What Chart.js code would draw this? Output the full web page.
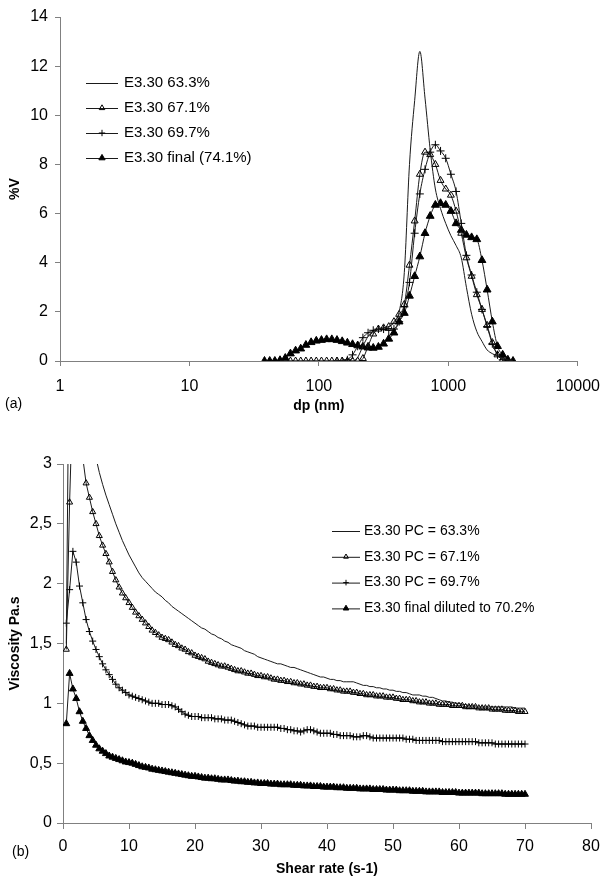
<!DOCTYPE html>
<html>
<head>
<meta charset="utf-8">
<script src="https://cdn.jsdelivr.net/npm/chart.js@4.4.1/dist/chart.umd.min.js"></script>
<style>
  html, body { margin: 0; padding: 0; background: #fff; }
  #wrap { position: relative; width: 611px; height: 881px; overflow: hidden; }
  canvas { position: absolute; left: 0; }
  #psd { top: 0; }
  #visc { top: 440px; }
</style>
</head>
<body>
<div id="wrap">
  <canvas id="psd" width="611" height="440" style="width:611px;height:440px"></canvas>
  <canvas id="visc" width="611" height="441" style="width:611px;height:441px"></canvas>
</div>
<script>
// ---- (a) particle size distribution ----
const sizeNm = [38.0, 41.7, 45.7, 50.1, 55.0, 60.3, 66.1, 72.4, 79.4, 87.1,
  95.5, 104.7, 114.8, 125.9, 138.0, 151.4, 166.0, 182.0, 199.5, 218.8,
  239.9, 263.0, 288.4, 316.2, 346.7, 380.2, 416.9, 457.1, 501.2, 549.5,
  602.6, 660.7, 724.4, 794.3, 871.0, 955.0, 1047, 1148, 1259, 1380,
  1514, 1660, 1820, 1995, 2188, 2399, 2630, 2884, 3162];

const dv633 = [null, null, null, 0, 0, 0, 0, 0, 0, 0,
  0, 0, 0, 0, 0, 0, 0, 0, 0.15, 0.6,
  1.0, 1.2, 1.3, 1.35, 1.4, 1.55, 2.0, 3.6, 8.0, 10.6,
  12.6, 10.7, 8.6, 7.0, 6.2, 5.6, 5.1, 4.7, 4.2, 3.0,
  1.9, 1.2, 0.8, 0.45, 0.3, 0.2, 0.12, 0.05, 0];

const dv671 = [null, null, null, 0, 0, 0, 0, 0, 0, 0,
  0, 0, 0, 0, 0, 0, 0, 0, 0, 0.1,
  0.6, 1.1, 1.3, 1.35, 1.4, 1.6, 1.9, 2.3, 3.9, 5.7,
  7.6, 8.5, 8.4, 8.0, 7.35, 7.0, 6.75, 6.1, 5.2, 4.2,
  3.45, 2.7, 2.1, 1.45, 0.75, 0.25, 0.05, 0, null];

const dv697 = [null, null, null, null, null, null, null, null, null, null,
  null, null, null, null, 0, 0, 0.05, 0.25, 0.6, 0.95,
  1.15, 1.25, 1.3, 1.3, 1.25, 1.3, 1.6, 2.2, 3.2, 5.2,
  6.8, 7.8, 8.5, 8.8, 8.55, 8.25, 7.6, 6.9, 5.6, 4.3,
  3.5, 2.8, 2.1, 1.4, 0.7, 0.25, 0.05, 0, null];

const dvFinal = [0, 0, 0, 0.03, 0.12, 0.3, 0.42, 0.5, 0.65, 0.76,
  0.82, 0.85, 0.88, 0.88, 0.85, 0.8, 0.74, 0.68, 0.63, 0.58,
  0.54, 0.53, 0.57, 0.7, 0.9, 1.15, 1.6, 1.95, 2.65, 3.45,
  4.25, 5.2, 5.9, 6.35, 6.42, 6.35, 6.1, 5.6, 5.33, 5.13,
  5.03, 4.95, 4.1, 2.9, 1.6, 0.6, 0.25, 0.05, 0];

const sizeTicks = [1, 10, 100, 1000, 10000];

// ---- (b) viscosity curves ----
const shearRate = [0.5, 1, 1.5, 2, 2.5, 3, 3.5, 4, 4.5, 5,
  5.5, 6, 6.5, 7, 7.5, 8, 8.5, 9, 9.5, 10,
  10.5, 11, 11.5, 12, 12.5, 13, 13.5, 14, 14.5, 15,
  15.5, 16, 16.5, 17, 17.5, 18, 18.5, 19, 19.5, 20,
  20.5, 21, 21.5, 22, 22.5, 23, 23.5, 24, 24.5, 25,
  25.5, 26, 26.5, 27, 27.5, 28, 28.5, 29, 29.5, 30,
  30.5, 31, 31.5, 32, 32.5, 33, 33.5, 34, 34.5, 35,
  35.5, 36, 36.5, 37, 37.5, 38, 38.5, 39, 39.5, 40,
  40.5, 41, 41.5, 42, 42.5, 43, 43.5, 44, 44.5, 45,
  45.5, 46, 46.5, 47, 47.5, 48, 48.5, 49, 49.5, 50,
  50.5, 51, 51.5, 52, 52.5, 53, 53.5, 54, 54.5, 55,
  55.5, 56, 56.5, 57, 57.5, 58, 58.5, 59, 59.5, 60,
  60.5, 61, 61.5, 62, 62.5, 63, 63.5, 64, 64.5, 65,
  65.5, 66, 66.5, 67, 67.5, 68, 68.5, 69, 69.5, 70];

const visc633 = [1.5, 4.5, 4.4, 4.2, 4.0, 3.8, 3.6, 3.4, 3.2, 3.05,
  2.93, 2.83, 2.74, 2.66, 2.58, 2.5, 2.43, 2.36, 2.3, 2.24,
  2.19, 2.14, 2.09, 2.05, 2.02, 1.99, 1.96, 1.93, 1.91, 1.89,
  1.86, 1.84, 1.81, 1.79, 1.77, 1.75, 1.73, 1.71, 1.69, 1.67,
  1.65, 1.63, 1.62, 1.6, 1.58, 1.57, 1.55, 1.54, 1.52, 1.51,
  1.49, 1.48, 1.47, 1.46, 1.44, 1.43, 1.42, 1.41, 1.39, 1.38,
  1.37, 1.36, 1.35, 1.34, 1.33, 1.33, 1.32, 1.31, 1.3, 1.3,
  1.29, 1.28, 1.27, 1.26, 1.25, 1.24, 1.23, 1.22, 1.22, 1.21,
  1.2, 1.2, 1.19, 1.19, 1.18, 1.18, 1.18, 1.18, 1.17, 1.16,
  1.15, 1.15, 1.14, 1.14, 1.13, 1.13, 1.12, 1.12, 1.11, 1.11,
  1.1, 1.1, 1.09, 1.09, 1.08, 1.07, 1.07, 1.07, 1.06, 1.06,
  1.05, 1.05, 1.04, 1.03, 1.02, 1.02, 1.01, 1.01, 1.0, 1.0,
  0.99, 0.99, 0.98, 0.98, 0.98, 0.97, 0.97, 0.97, 0.97, 0.97,
  0.97, 0.97, 0.97, 0.97, 0.97, 0.97, 0.96, 0.96, 0.96, 0.96];

const visc671 = [1.45, 2.68, 3.6, 3.4, 3.2, 3.05, 2.84, 2.72, 2.6, 2.5,
  2.4, 2.32, 2.25, 2.18, 2.1, 2.03, 1.97, 1.92, 1.88, 1.84,
  1.8, 1.76, 1.73, 1.7, 1.67, 1.64, 1.61, 1.59, 1.57, 1.55,
  1.54, 1.53, 1.51, 1.49, 1.48, 1.46, 1.45, 1.43, 1.42, 1.4,
  1.39, 1.38, 1.37, 1.35, 1.34, 1.33, 1.32, 1.31, 1.31, 1.3,
  1.29, 1.28, 1.27, 1.27, 1.26, 1.25, 1.25, 1.24, 1.23, 1.23,
  1.22, 1.22, 1.21, 1.2, 1.2, 1.19, 1.19, 1.18, 1.18, 1.17,
  1.17, 1.16, 1.16, 1.15, 1.15, 1.14, 1.14, 1.13, 1.13, 1.13,
  1.12, 1.12, 1.11, 1.11, 1.1, 1.1, 1.1, 1.09, 1.09, 1.08,
  1.08, 1.07, 1.07, 1.07, 1.06, 1.06, 1.06, 1.05, 1.05, 1.05,
  1.04, 1.04, 1.03, 1.03, 1.03, 1.02, 1.02, 1.01, 1.01, 1.01,
  1.0, 1.0, 1.0, 0.99, 0.99, 0.99, 0.99, 0.98, 0.98, 0.98,
  0.98, 0.97, 0.97, 0.97, 0.97, 0.96, 0.96, 0.96, 0.96, 0.95,
  0.95, 0.95, 0.95, 0.94, 0.94, 0.94, 0.94, 0.93, 0.93, 0.93];

const visc697 = [1.67, 1.95, 2.27, 2.18, 1.98, 1.84, 1.7, 1.6, 1.52, 1.45,
  1.39, 1.33, 1.28, 1.24, 1.2, 1.16, 1.13, 1.11, 1.09, 1.07,
  1.06, 1.05, 1.04, 1.03, 1.02, 1.01, 1.0, 1.0, 1.0, 0.99,
  0.99, 0.99, 0.98, 0.97, 0.95, 0.93, 0.91, 0.9, 0.89, 0.89,
  0.89, 0.88, 0.88, 0.88, 0.88, 0.87, 0.87, 0.87, 0.86, 0.86,
  0.86, 0.85, 0.84, 0.83, 0.82, 0.81, 0.81, 0.81, 0.8, 0.8,
  0.8, 0.8, 0.8, 0.8, 0.8, 0.79, 0.79, 0.78, 0.78, 0.77,
  0.77, 0.76, 0.77, 0.78, 0.78, 0.77, 0.76, 0.75, 0.75, 0.75,
  0.75, 0.74, 0.74, 0.73, 0.73, 0.73, 0.73, 0.72, 0.72, 0.72,
  0.73, 0.73, 0.72, 0.71, 0.71, 0.71, 0.71, 0.71, 0.71, 0.71,
  0.71, 0.71, 0.71, 0.7, 0.7, 0.7, 0.69, 0.69, 0.69, 0.69,
  0.69, 0.69, 0.69, 0.69, 0.68, 0.68, 0.68, 0.68, 0.68, 0.68,
  0.68, 0.68, 0.68, 0.68, 0.68, 0.67, 0.67, 0.67, 0.67, 0.67,
  0.66, 0.66, 0.66, 0.66, 0.66, 0.66, 0.66, 0.66, 0.66, 0.66];

const viscFinal = [0.83, 1.25, 1.12, 1.04, 0.93, 0.85, 0.79, 0.73, 0.69, 0.65,
  0.62, 0.6, 0.58, 0.56, 0.55, 0.54, 0.53, 0.52, 0.51, 0.505,
  0.5, 0.49, 0.48, 0.47, 0.465, 0.46, 0.45, 0.445, 0.44, 0.435,
  0.43, 0.425, 0.42, 0.415, 0.41, 0.405, 0.4, 0.395, 0.39, 0.39,
  0.385, 0.38, 0.375, 0.375, 0.37, 0.37, 0.365, 0.36, 0.36, 0.36,
  0.355, 0.35, 0.35, 0.345, 0.345, 0.34, 0.34, 0.335, 0.335, 0.33,
  0.33, 0.33, 0.325, 0.325, 0.325, 0.32, 0.32, 0.32, 0.32, 0.315,
  0.315, 0.315, 0.31, 0.31, 0.31, 0.305, 0.305, 0.305, 0.3, 0.3,
  0.3, 0.3, 0.295, 0.295, 0.295, 0.29, 0.29, 0.29, 0.29, 0.285,
  0.285, 0.285, 0.285, 0.28, 0.28, 0.28, 0.28, 0.275, 0.275, 0.275,
  0.275, 0.27, 0.27, 0.27, 0.27, 0.265, 0.265, 0.265, 0.265, 0.26,
  0.26, 0.26, 0.26, 0.26, 0.255, 0.255, 0.255, 0.255, 0.255, 0.25,
  0.25, 0.25, 0.25, 0.25, 0.25, 0.25, 0.245, 0.245, 0.245, 0.245,
  0.245, 0.245, 0.245, 0.24, 0.24, 0.24, 0.24, 0.24, 0.24, 0.24];

const FONT = "'Liberation Sans', Arial, sans-serif";
const AXIS_GREY = '#808080';
const LINE = '#1a1a1a';

function toPoints(xs, ys) {
  const pts = [];
  xs.forEach((x, i) => { if (ys[i] !== null) pts.push({ x: x, y: ys[i] }); });
  return pts;
}

function series(label, xs, ys, style, radius, fill) {
  return {
    label: label,
    data: toPoints(xs, ys),
    borderColor: LINE,
    borderWidth: 1,
    pointStyle: style || 'circle',
    pointRadius: style ? radius : 0,
    pointBorderColor: '#000',
    pointBackgroundColor: fill || 'rgba(255,255,255,0)',
    pointBorderWidth: 1
  };
}

// legend drawn inside the plot + panel letter
const insideLegend = {
  id: 'insideLegend',
  afterDraw(chart, args, opts) {
    const ctx = chart.ctx;
    ctx.save();
    ctx.font = opts.font;
    ctx.textBaseline = 'middle';
    chart.data.datasets.forEach((ds, i) => {
      const y = opts.y + i * opts.gap;
      ctx.strokeStyle = LINE;
      ctx.lineWidth = 1;
      ctx.beginPath();
      ctx.moveTo(opts.x, y + 0.5);
      ctx.lineTo(opts.x + opts.len, y + 0.5);
      ctx.stroke();
      if (ds.pointRadius > 0) {
        ctx.fillStyle = ds.pointBackgroundColor;
        ctx.strokeStyle = ds.pointBorderColor;
        ctx.lineWidth = ds.pointBorderWidth;
        Chart.helpers.drawPoint(ctx, {
          pointStyle: ds.pointStyle, radius: ds.pointRadius * 0.8,
          borderWidth: ds.pointBorderWidth, rotation: 0
        }, opts.x + opts.len / 2, y);
      }
      ctx.fillStyle = '#000';
      ctx.fillText(ds.label, opts.x + opts.len + opts.textGap, y);
    });
    ctx.font = opts.tagFont;
    ctx.fillText(opts.tag, opts.tagX, opts.tagY);
    ctx.restore();
  }
};
Chart.register(insideLegend);

const tickFont = { family: FONT, size: 16 };
const titleFont = { family: FONT, size: 14, weight: 'bold' };

new Chart(document.getElementById('psd'), {
  type: 'line',
  data: {
    datasets: [
      series('E3.30 63.3%', sizeNm, dv633, null, 0),
      series('E3.30 67.1%', sizeNm, dv671, 'triangle', 4),
      series('E3.30 69.7%', sizeNm, dv697, 'cross', 4),
      series('E3.30 final (74.1%)', sizeNm, dvFinal, 'triangle', 4.5, '#000')
    ]
  },
  options: {
    responsive: false,
    animation: false,
    devicePixelRatio: 1,
    layout: { padding: { top: 17, right: 19, left: 0, bottom: 0 } },
    elements: { line: { cubicInterpolationMode: 'monotone' } },
    plugins: {
      legend: { display: false },
      tooltip: { enabled: false },
      insideLegend: {
        x: 86, y: 83, gap: 25, len: 32, textGap: 6,
        font: '15px ' + FONT,
        tag: '(a)', tagX: 5, tagY: 404, tagFont: '14px ' + FONT
      }
    },
    scales: {
      x: {
        type: 'logarithmic', min: 1, max: 10000,
        afterBuildTicks: (s) => { s.ticks = sizeTicks.map(v => ({ value: v })); },
        afterFit: (s) => { s.height = 79; },
        ticks: { callback: (v) => String(v), font: tickFont, color: '#000', padding: 11, maxRotation: 0, autoSkip: false },
        grid: { drawOnChartArea: false, tickLength: 5, color: AXIS_GREY },
        border: { color: AXIS_GREY },
        title: { display: true, text: 'dp (nm)', font: titleFont, color: '#000', padding: { top: 0, bottom: 25 } }
      },
      y: {
        min: 0, max: 14,
        afterFit: (s) => { s.width = 60; },
        ticks: { stepSize: 2, font: tickFont, color: '#000', padding: 7 },
        grid: { drawOnChartArea: false, tickLength: 5, color: AXIS_GREY },
        border: { color: AXIS_GREY },
        title: { display: true, text: '%V', font: titleFont, color: '#000', padding: { top: 7, bottom: 0 } }
      }
    }
  }
});

new Chart(document.getElementById('visc'), {
  type: 'line',
  data: {
    datasets: [
      series('E3.30 PC = 63.3%', shearRate, visc633, null, 0),
      series('E3.30 PC = 67.1%', shearRate, visc671, 'triangle', 3.5),
      series('E3.30 PC = 69.7%', shearRate, visc697, 'cross', 3.5),
      series('E3.30 final diluted to 70.2%', shearRate, viscFinal, 'triangle', 4, '#000')
    ]
  },
  options: {
    responsive: false,
    animation: false,
    devicePixelRatio: 1,
    layout: { padding: { top: 24, right: 20, left: 0, bottom: 0 } },
    plugins: {
      legend: { display: false },
      tooltip: { enabled: false },
      insideLegend: {
        x: 332, y: 91, gap: 25.8, len: 28, textGap: 4,
        font: '14px ' + FONT,
        tag: '(b)', tagX: 12, tagY: 412, tagFont: '14px ' + FONT
      }
    },
    scales: {
      x: {
        type: 'linear', min: 0, max: 80,
        afterFit: (s) => { s.height = 58; },
        ticks: { stepSize: 10, font: tickFont, color: '#000', padding: 8, maxRotation: 0 },
        grid: { drawOnChartArea: false, tickLength: 6, color: AXIS_GREY },
        border: { color: AXIS_GREY },
        title: { display: true, text: 'Shear rate (s-1)', font: titleFont, color: '#000', padding: { top: 0, bottom: 3 } }
      },
      y: {
        min: 0, max: 3,
        afterFit: (s) => { s.width = 63; },
        ticks: { stepSize: 0.5, font: tickFont, color: '#000', padding: 5,
          callback: (v) => String(v).replace('.', ',') },
        grid: { drawOnChartArea: false, tickLength: 6, color: AXIS_GREY },
        border: { color: AXIS_GREY },
        title: { display: true, text: 'Viscosity Pa.s', font: titleFont, color: '#000', padding: { top: 7, bottom: 0 } }
      }
    }
  }
});
</script>
</body>
</html>
